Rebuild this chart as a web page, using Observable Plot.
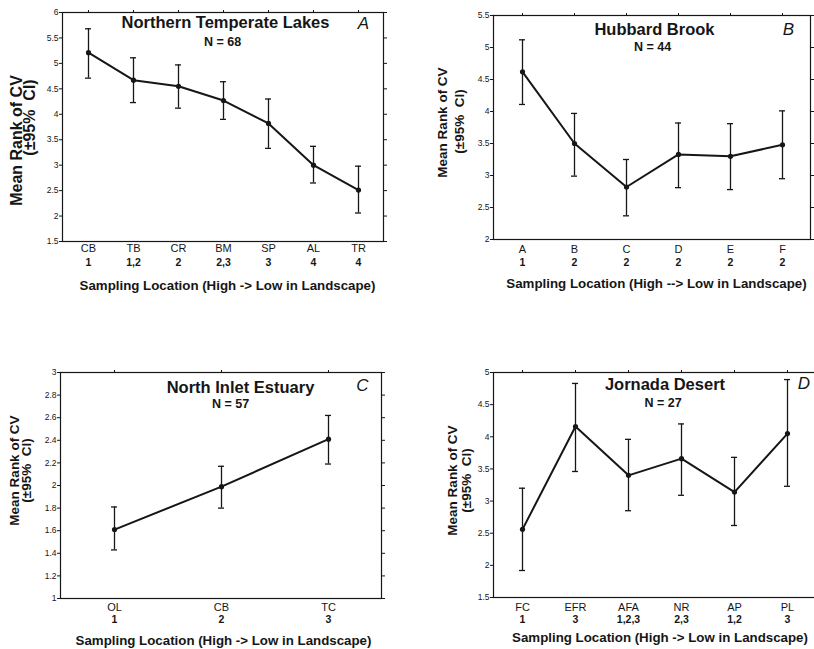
<!DOCTYPE html>
<html><head><meta charset="utf-8">
<script src="https://cdn.jsdelivr.net/npm/d3@7"></script>
<script src="https://cdn.jsdelivr.net/npm/@observablehq/plot@0.6"></script>
<style>
html,body{margin:0;padding:0;background:#fff;overflow:hidden;width:814px;height:649px}
#wrap{position:relative;width:814px;height:649px;overflow:hidden;background:#fff}
.panel{position:absolute;overflow:hidden}
.panel svg{max-width:none !important}
</style></head><body><div id="wrap"></div>
<script>
// ---- Panel A: Northern Temperate Lakes ----
const sitesA  = ["CB","TB","CR","BM","SP","AL","TR"];
const groupsA = ["1","1,2","2","2,3","3","4","4"];
const meanA   = [5.21,4.67,4.55,4.27,3.82,3.00,2.51];
const lowerA  = [4.71,4.23,4.12,3.90,3.33,2.65,2.06];
const upperA  = [5.68,5.11,4.97,4.64,4.30,3.37,2.98];
const yTicksA = [1.5,2,2.5,3,3.5,4,4.5,5,5.5,6];

// ---- Panel B: Hubbard Brook ----
const sitesB  = ["A","B","C","D","E","F"];
const groupsB = ["1","2","2","2","2","2"];
const meanB   = [4.62,3.50,2.82,3.33,3.30,3.48];
const lowerB  = [4.11,2.99,2.37,2.81,2.78,2.95];
const upperB  = [5.12,3.97,3.25,3.82,3.81,4.01];
const yTicksB = [2,2.5,3,3.5,4,4.5,5,5.5];

// ---- Panel C: North Inlet Estuary ----
const sitesC  = ["OL","CB","TC"];
const groupsC = ["1","2","3"];
const meanC   = [1.61,1.99,2.41];
const lowerC  = [1.43,1.80,2.19];
const upperC  = [1.81,2.17,2.62];
const yTicksC = [1,1.2,1.4,1.6,1.8,2,2.2,2.4,2.6,2.8,3];

// ---- Panel D: Jornada Desert ----
const sitesD  = ["FC","EFR","AFA","NR","AP","PL"];
const groupsD = ["1","3","1,2,3","2,3","1,2","3"];
const meanD   = [2.56,4.16,3.40,3.66,3.14,4.05];
const lowerD  = [1.92,3.46,2.85,3.09,2.62,3.23];
const upperD  = [3.20,4.83,3.96,4.20,3.68,4.89];
const yTicksD = [1.5,2,2.5,3,3.5,4,4.5,5];

const titles  = ["Northern Temperate Lakes","Hubbard Brook","North Inlet Estuary","Jornada Desert"];
const nLabels = ["N = 68","N = 44","N = 57","N = 27"];
const letters = ["A","B","C","D"];
const yLabel1 = "Mean Rank of CV";
const yLabel2 = "(\u00B195%  CI)";
const xLabels = ["Sampling Location (High -> Low in Landscape)",
                 "Sampling Location (High --> Low in Landscape)",
                 "Sampling Location (High -> Low in Landscape)",
                 "Sampling Location (High -> Low in Landscape)"];

const INK = "#161616";
const FONT = "'Liberation Sans', Arial, Helvetica, sans-serif";

function panel(cfg) {
  const rows = cfg.sites.map((site, i) => ({
    site, group: cfg.groups[i], mean: cfg.mean[i], lower: cfg.lower[i], upper: cfg.upper[i]
  }));
  const L = cfg.layout;
  const T = {fill: INK, textAnchor: "middle", lineAnchor: "middle"};
  const svg = Plot.plot({
    width: L.width, height: L.height,
    marginLeft: L.ml, marginRight: L.mr, marginTop: L.mt, marginBottom: L.mb,
    style: {fontFamily: FONT, color: INK, background: "transparent", maxWidth: "none"},
    x: {type: "point", domain: cfg.sites, padding: 0.5, axis: null},
    y: {domain: cfg.yDomain, axis: null},
    marks: [
      Plot.frame({stroke: INK, strokeWidth: 1.2}),
      Plot.axisY({ticks: cfg.yTicks, anchor: "left", tickSize: 3, tickPadding: 1, fontSize: 8.5, label: null, stroke: INK, fill: INK, tickFormat: d => String(d)}),
      Plot.axisY({ticks: cfg.yTicks, anchor: "right", tickSize: 3, tickFormat: () => "", label: null, stroke: INK}),
      Plot.axisX({anchor: "top", tickSize: 3, tickFormat: () => "", label: null, stroke: INK}),
      Plot.ruleX(rows, {x: "site", y1: "lower", y2: "upper", stroke: INK, strokeWidth: 1.3}),
      Plot.ruleY(rows, {x1: "site", x2: "site", y: "lower", insetLeft: -3, insetRight: -3, stroke: INK, strokeWidth: 1.3}),
      Plot.ruleY(rows, {x1: "site", x2: "site", y: "upper", insetLeft: -3, insetRight: -3, stroke: INK, strokeWidth: 1.3}),
      Plot.line(rows, {x: "site", y: "mean", stroke: INK, strokeWidth: 2}),
      Plot.dot(rows, {x: "site", y: "mean", r: 2.6, fill: INK, stroke: null}),
      Plot.text(rows, {...T, x: "site", text: "site", frameAnchor: "bottom", dy: L.nameDy, fontSize: 11}),
      Plot.text(rows, {...T, x: "site", text: "group", frameAnchor: "bottom", dy: L.grpDy, fontSize: 10.5, fontWeight: "bold", letterSpacing: 1.8}),
      Plot.text([cfg.xLabel], {...T, text: d => d, frameAnchor: "bottom", dx: L.xlDx, dy: L.xlDy, fontSize: 13.3, fontWeight: "bold"}),
      Plot.text([yLabel1], {...T, text: d => d, frameAnchor: "left", rotate: -90, dx: L.y1Dx, dy: L.y1Dy, fontSize: L.ylSize, letterSpacing: L.ylSpacing, fontWeight: "bold"}),
      Plot.text([yLabel2], {...T, text: d => d, frameAnchor: "left", rotate: -90, dx: L.y2Dx, dy: L.y2Dy, fontSize: L.ylSize, letterSpacing: L.ylSpacing, fontWeight: "bold"}),
      Plot.text([cfg.title], {...T, text: d => d, frameAnchor: "top", dx: L.tDx, dy: L.tDy, fontSize: 16.5, fontWeight: "bold"}),
      Plot.text([cfg.n], {...T, text: d => d, frameAnchor: "top", dx: L.nDx, dy: L.nDy, fontSize: 12.5, fontWeight: "bold"}),
      Plot.text([cfg.letter], {...T, text: d => d, frameAnchor: "top", dx: L.lDx, dy: L.lDy, fontSize: 17, fontStyle: "italic"})
    ]
  });
  const div = document.createElement("div");
  div.className = "panel";
  div.style.left = L.left + "px";
  div.style.top = L.top + "px";
  div.style.width = L.boxW + "px";
  div.style.height = L.height + "px";
  div.appendChild(svg);
  document.getElementById("wrap").appendChild(div);
}

panel({sites: sitesA, groups: groupsA, mean: meanA, lower: lowerA, upper: upperA,
  yDomain: [1.5, 6], yTicks: yTicksA, title: titles[0], n: nLabels[0], letter: letters[0], xLabel: xLabels[0],
  layout: {left: 0, top: 0, width: 400, boxW: 400, height: 300, ml: 62, mr: 17, mt: 12, mb: 59,
    nameDy: 7, grpDy: 21, xlDx: 4.5, xlDy: 44, ylSize: 16, ylSpacing: 0.8, y1Dx: -46, y1Dy: 13.5, y2Dx: -33, y2Dy: -9.5,
    tDx: 2.5, tDy: 10.5, nDx: -0.5, nDy: 29, lDx: 140.5, lDy: 11}});

panel({sites: sitesB, groups: groupsB, mean: meanB, lower: lowerB, upper: upperB,
  yDomain: [2, 5.5], yTicks: yTicksB, title: titles[1], n: nLabels[1], letter: letters[1], xLabel: xLabels[1],
  layout: {left: 410, top: 0, width: 404, boxW: 404, height: 300, ml: 83, mr: 4, mt: 15, mb: 61,
    nameDy: 10, grpDy: 23, xlDx: 4.5, xlDy: 44, ylSize: 13.5, ylSpacing: 0, y1Dx: -51, y1Dy: -5, y2Dx: -34, y2Dy: -6,
    tDx: 2.5, tDy: 14, nDx: 0.5, nDy: 31, lDx: 136.5, lDy: 14}});

panel({sites: sitesC, groups: groupsC, mean: meanC, lower: lowerC, upper: upperC,
  yDomain: [1, 3], yTicks: yTicksC, title: titles[2], n: nLabels[2], letter: letters[2], xLabel: xLabels[2],
  layout: {left: 0, top: 320, width: 400, boxW: 400, height: 329, ml: 60, mr: 19, mt: 52, mb: 51,
    nameDy: 9, grpDy: 21, xlDx: 2.5, xlDy: 42, ylSize: 13.5, ylSpacing: 0, y1Dx: -46, y1Dy: -15, y2Dx: -34, y2Dy: -15,
    tDx: 19.5, tDy: 15, nDx: 9.5, nDy: 31, lDx: 141.5, lDy: 13}});

panel({sites: sitesD, groups: groupsD, mean: meanD, lower: lowerD, upper: upperD,
  yDomain: [1.5, 5], yTicks: yTicksD, title: titles[3], n: nLabels[3], letter: letters[3], xLabel: xLabels[3],
  layout: {left: 410, top: 320, width: 412, boxW: 404, height: 329, ml: 83, mr: 6, mt: 52, mb: 52,
    nameDy: 10, grpDy: 22, xlDx: 5, xlDy: 40, ylSize: 13.5, ylSpacing: 0, y1Dx: -41, y1Dy: -4.5, y2Dx: -27, y2Dy: -4.5,
    tDx: 10, tDy: 12, nDx: 8, nDy: 30, lDx: 149, lDy: 11}});
</script></body></html>
